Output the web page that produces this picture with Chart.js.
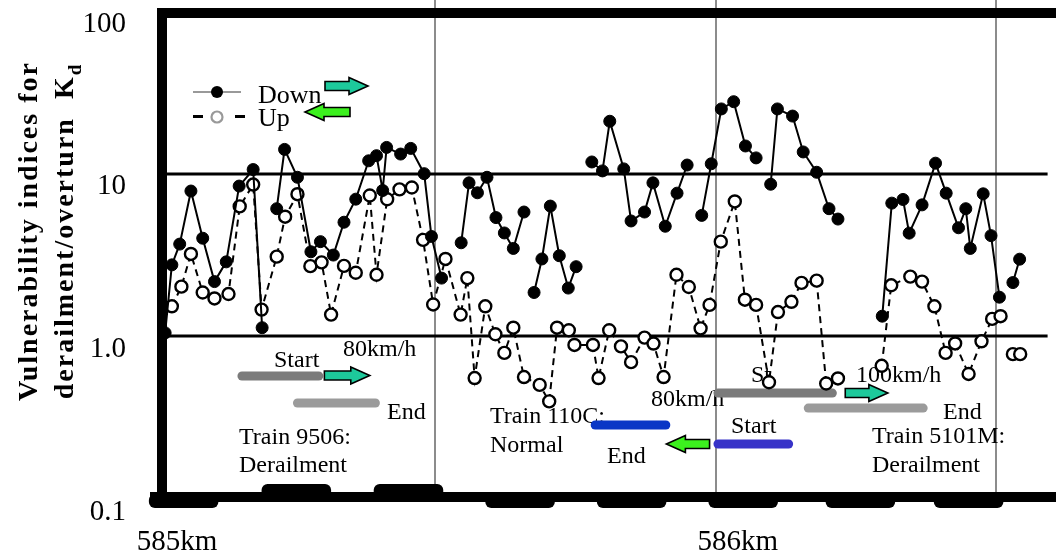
<!DOCTYPE html>
<html>
<head>
<meta charset="utf-8">
<script src="https://cdn.jsdelivr.net/npm/chart.js@4.4.0/dist/chart.umd.min.js"></script>
<style>
  html, body { margin: 0; padding: 0; background: #fff; }
  #wrap { width: 1056px; height: 558px; }
</style>
</head>
<body>
<div id="wrap"><canvas id="kd-chart" width="1056" height="558"></canvas></div>
<script>
// position along the line (km) and vulnerability index Kd, null = break in the line
const downKm = [585.018, 585.030, 585.044, 585.064, 585.085, 585.106, 585.127, 585.150, 585.175, 585.191, 585.200,
  585.217, 585.231, 585.254, 585.278, 585.295, 585.318, 585.337, 585.358, 585.381, 585.395, 585.406, 585.413,
  585.438, 585.456, 585.480, 585.493, 585.511, 585.530, 585.546, 585.560, 585.575, 585.592, 585.608, 585.623,
  585.639, 585.658, 585.667, 585.676, 585.690, 585.705, 585.721, 585.737, 585.751, 585.765, 585.779, 585.798,
  585.811, 585.836, 585.849, 585.873, 585.888, 585.910, 585.931, 585.949, 585.962, 585.975, 585.992, 586.010,
  586.032, 586.053, 586.072, 586.085, 586.098, 586.110, 586.137, 586.156, 586.180, 586.202, 586.218, 586.250,
  586.297, 586.314, 586.334, 586.345, 586.368, 586.392, 586.411, 586.433, 586.446, 586.454, 586.477, 586.491,
  586.506, 586.518, 586.530, 586.542];
const downKd = [1.05, 2.75, 3.69, 7.82, 4.01, 2.17, 2.87, 8.39, 10.6, 1.13, null,
  6.09, 14.1, 9.5, 3.31, 3.82, 3.16, 5.03, 6.97, 12.0, 12.9, 7.88, 14.5,
  13.2, 14.3, 10.0, 4.11, 2.28, null, 3.76, 8.78, 7.63, 9.5, 5.37, 4.32,
  3.47, 5.81, null, 1.86, 2.99, 6.32, 3.13, 1.98, 2.68, null, 11.8, 10.4,
  21.0, 10.7, 5.12, 5.81, 8.78, 4.75, 7.59, 11.3, null, 5.54, 11.5, 25.0,
  27.7, 14.8, 12.5, null, 8.61, 25.0, 22.6, 13.6, 10.2, 6.09, 5.26, null,
  1.33, 6.59, 6.94, 4.31, 6.43, 11.6, 7.59, 4.65, 6.09, 3.47, 7.52, 4.16,
  1.74, null, 2.14, 2.98];

const upKm = [585.030, 585.047, 585.064, 585.085, 585.106, 585.131, 585.151, 585.175, 585.190, 585.217,
  585.232, 585.254, 585.277, 585.297, 585.314, 585.337, 585.358, 585.383, 585.395, 585.414,
  585.436, 585.458, 585.478, 585.496, 585.518, 585.545, 585.557, 585.570, 585.589, 585.607,
  585.623, 585.639, 585.658, 585.686, 585.703, 585.717, 585.738, 585.748, 585.781, 585.791,
  585.810, 585.831, 585.849, 585.873, 585.889, 585.907, 585.930, 585.952, 585.973, 585.989,
  586.009, 586.034, 586.052, 586.072, 586.095, 586.111, 586.135, 586.153, 586.180, 586.197,
  586.218, 586.260, 586.296, 586.313, 586.347, 586.368, 586.390, 586.410, 586.427, 586.451,
  586.474, 586.493, 586.508, 586.520, 586.530, 586.543];
const upKd = [1.53, 2.02, 3.21, 1.86, 1.71, 1.82, 6.29, 8.57, 1.46, 3.09,
  5.44, 7.48, 2.70, 2.85, 1.36, 2.71, 2.46, 7.34, 2.39, 6.96,
  8.01, 8.22, 3.92, 1.57, 2.99, 1.36, 2.28, 0.554, 1.53, 1.03,
  0.791, 1.13, 0.562, 0.503, 0.398, 1.13, 1.09, 0.885, 0.885, 0.554,
  1.09, 0.867, 0.694, 0.982, 0.903, 0.562, 2.39, 2.01, 1.12, 1.56,
  3.82, 6.75, 1.68, 1.56, 0.522, 1.41, 1.63, 2.13, 2.20, 0.513,
  0.551, null, 0.659, 2.06, 2.33, 2.17, 1.53, 0.791, 0.904, 0.587,
  0.932, 1.28, 1.33, null, 0.777, 0.777];

// train start/end segments (km range, Kd level)
const barFrom = [585.155, 585.254, 585.785, 586.004, 586.004, 586.165];
const barTo = [585.292, 585.393, 585.911, 586.130, 586.208, 586.370];
const barLevel = [0.570, 0.389, 0.285, 0.218, 0.448, 0.362];
const barColors = ['#7b7b7b', '#9b9b9b', '#0a37c6', '#3733c8', '#7b7b7b', '#9b9b9b'];

// running direction arrows
const arrowFrom = [585.302, 586.231, 585.989];
const arrowTo = [585.383, 586.307, 585.912];
const arrowLevel = [0.575, 0.448, 0.218];
const arrowColors = ['#1dc99b', '#1dc99b', '#3cf01e'];

// sleepers drawn on the track line, side 1 = above
const sleeperKm = [585.051, 585.252, 585.452, 585.651, 585.850, 586.049, 586.258, 586.451];
const sleeperSide = [-1, 1, 1, -1, -1, -1, -1, -1];

const yTickVals = [0.1, 1, 10, 100];
const yTickText = ['0.1', '1.0', '10', '100'];
const xTickVals = [585, 586];
const xTickText = ['585km', '586km'];
const kmLines = [585.5, 586.0, 586.5];
const refLevels = [1, 10];

const SERIF = '"Liberation Serif", "Times New Roman", serif';

function pts(xs, ys) {
  return xs.map((x, i) => ({ x: x, y: ys[i] }));
}

function arrow(ctx, x1, x2, y, fill) {
  const dir = Math.sign(x2 - x1);
  const head = 19, sh = 4.5, hh = 8.5;
  ctx.beginPath();
  ctx.moveTo(x1, y - sh);
  ctx.lineTo(x2 - dir * head, y - sh);
  ctx.lineTo(x2 - dir * head, y - hh);
  ctx.lineTo(x2, y);
  ctx.lineTo(x2 - dir * head, y + hh);
  ctx.lineTo(x2 - dir * head, y + sh);
  ctx.lineTo(x1, y + sh);
  ctx.closePath();
  ctx.fillStyle = fill;
  ctx.fill();
  ctx.lineWidth = 1.6;
  ctx.strokeStyle = '#000';
  ctx.stroke();
}

function roundRect(ctx, x, y, w, h, r) {
  ctx.beginPath();
  ctx.moveTo(x + r, y);
  ctx.arcTo(x + w, y, x + w, y + h, r);
  ctx.arcTo(x + w, y + h, x, y + h, r);
  ctx.arcTo(x, y + h, x, y, r);
  ctx.arcTo(x, y, x + w, y, r);
  ctx.closePath();
  ctx.fill();
}

const underlay = {
  id: 'underlay',
  beforeDatasetsDraw(chart) {
    const { ctx, chartArea: a, scales: { x, y } } = chart;
    ctx.save();
    // grey km lines
    ctx.strokeStyle = '#8c8c8c';
    ctx.lineWidth = 2;
    kmLines.forEach(v => {
      const px = Math.round(x.getPixelForValue(v));
      ctx.beginPath();
      ctx.moveTo(px, 0);
      ctx.lineTo(px, 497);
      ctx.stroke();
    });
    // Kd = 1 and 10 reference lines
    ctx.strokeStyle = '#000';
    ctx.lineWidth = 3;
    refLevels.forEach(v => {
      const py = Math.round(y.getPixelForValue(v));
      ctx.beginPath();
      ctx.moveTo(a.left, py);
      ctx.lineTo(a.right, py);
      ctx.stroke();
    });
    // annotation texts
    ctx.fillStyle = '#000';
    ctx.font = '24px ' + SERIF;
    ctx.textBaseline = 'middle';
    ctx.textAlign = 'left';
    [
      ['Start', 274, 361], ['80km/h', 343, 350], ['End', 387, 413],
      ['Train 9506:', 239, 438], ['Derailment', 239, 466],
      ['Train 110C:', 490, 417], ['Normal', 490, 446],
      ['80km/h', 651, 400], ['End', 607, 457], ['Start', 731, 427],
      ['St', 751, 376], ['100km/h', 856, 376], ['End', 943, 413],
      ['Train 5101M:', 872, 437], ['Derailment', 872, 466]
    ].forEach(t => ctx.fillText(t[0], t[1], t[2]));
    ctx.restore();
  },
  afterDatasetsDraw(chart) {
    const { ctx, scales: { x, y } } = chart;
    ctx.save();
    // frame
    ctx.fillStyle = '#000';
    ctx.fillRect(157, 8, 1056 - 157, 10);
    ctx.fillRect(157, 8, 10, 494);
    ctx.fillRect(150, 492, 1056 - 150, 10);
    // sleepers
    const half = x.getPixelForValue(585.062) - x.getPixelForValue(585.0);
    sleeperKm.forEach((v, i) => {
      const px = x.getPixelForValue(v);
      const top = sleeperSide[i] > 0 ? 484 : 494;
      roundRect(ctx, px - half, top, half * 2, 14, 6);
    });
    // arrows
    arrowFrom.forEach((v, i) => {
      arrow(ctx, x.getPixelForValue(v), x.getPixelForValue(arrowTo[i]),
        y.getPixelForValue(arrowLevel[i]), arrowColors[i]);
    });
    // tick labels
    ctx.fillStyle = '#000';
    ctx.font = '29px ' + SERIF;
    ctx.textAlign = 'right';
    ctx.textBaseline = 'middle';
    yTickVals.forEach((v, i) => {
      ctx.fillText(yTickText[i], 126, y.getPixelForValue(v) + 13);
    });
    ctx.textAlign = 'center';
    xTickVals.forEach((v, i) => {
      ctx.fillText(xTickText[i], x.getPixelForValue(v) + 22, 542);
    });
    // axis title
    ctx.save();
    ctx.translate(0, 231);
    ctx.rotate(-Math.PI / 2);
    ctx.textBaseline = 'alphabetic';
    ctx.textAlign = 'center';
    ctx.letterSpacing = '2px';
    ctx.font = 'bold 28px ' + SERIF;
    ctx.fillText('Vulnerability indices for', 0, 37);
    const line2 = 'derailment/overturn  K';
    const w2 = ctx.measureText(line2).width;
    ctx.font = 'bold 19px ' + SERIF;
    const wd = ctx.measureText('d').width;
    const start = -(w2 + wd) / 2;
    ctx.textAlign = 'left';
    ctx.font = 'bold 28px ' + SERIF;
    ctx.fillText(line2, start, 73);
    ctx.font = 'bold 19px ' + SERIF;
    ctx.fillText('d', start + w2, 81);
    ctx.restore();
    // legend
    ctx.strokeStyle = '#999';
    ctx.lineWidth = 2;
    ctx.beginPath();
    ctx.moveTo(193, 92);
    ctx.lineTo(241, 92);
    ctx.stroke();
    ctx.fillStyle = '#000';
    ctx.beginPath();
    ctx.arc(217, 92, 6, 0, Math.PI * 2);
    ctx.fill();
    ctx.fillRect(193, 115, 10, 3);
    ctx.fillRect(235, 115, 10, 3);
    ctx.fillStyle = '#fff';
    ctx.strokeStyle = '#999';
    ctx.lineWidth = 2.2;
    ctx.beginPath();
    ctx.arc(217, 117, 5.5, 0, Math.PI * 2);
    ctx.fill();
    ctx.stroke();
    ctx.fillStyle = '#000';
    ctx.font = '26px ' + SERIF;
    ctx.textAlign = 'left';
    ctx.textBaseline = 'alphabetic';
    ctx.fillText('Down', 258, 103);
    ctx.fillText('Up', 258, 126);
    arrow(ctx, 325, 368, 86, '#1dc99b');
    arrow(ctx, 350, 305, 112, '#3cf01e');
    ctx.restore();
  }
};

const bars = barFrom.map((v, i) => ({
  label: 'bar' + i,
  data: [{ x: v, y: barLevel[i] }, { x: barTo[i], y: barLevel[i] }],
  borderColor: barColors[i],
  borderWidth: 9,
  borderCapStyle: 'round',
  pointRadius: 0,
  order: 5
}));

new Chart(document.getElementById('kd-chart').getContext('2d'), {
  type: 'line',
  data: {
    datasets: [
      {
        label: 'Down',
        data: pts(downKm, downKd),
        borderColor: '#000',
        borderWidth: 2,
        pointRadius: 6,
        pointBackgroundColor: '#000',
        pointBorderColor: '#000',
        pointBorderWidth: 1,
        spanGaps: false,
        order: 1
      },
      {
        label: 'Up',
        data: pts(upKm, upKd),
        borderColor: '#000',
        borderWidth: 2,
        borderDash: [7, 5],
        pointRadius: 6,
        pointBackgroundColor: '#fff',
        pointBorderColor: '#000',
        pointBorderWidth: 2.4,
        spanGaps: false,
        order: 2
      },
      ...bars
    ]
  },
  options: {
    responsive: false,
    animation: false,
    devicePixelRatio: 1,
    layout: { padding: { left: 162, top: 11, right: 0, bottom: 59 } },
    scales: {
      x: { type: 'linear', min: 585.0124, max: 586.5919, display: false },
      y: { type: 'logarithmic', min: 0.1, max: 100, display: false }
    },
    plugins: {
      legend: { display: false },
      tooltip: { enabled: false }
    },
    elements: { line: { tension: 0 } }
  },
  plugins: [underlay]
});
</script>
</body>
</html>
